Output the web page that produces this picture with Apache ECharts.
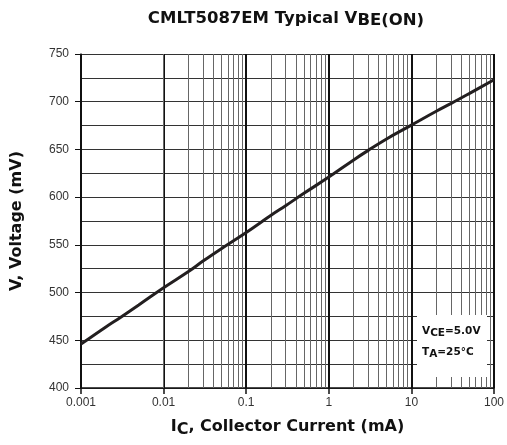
<!DOCTYPE html>
<html>
<head>
<meta charset="utf-8">
<script src="https://cdn.jsdelivr.net/npm/echarts@6/dist/echarts.min.js"></script>
<style>html,body{margin:0;padding:0;background:#fff}#c{width:507px;height:445px}</style>
</head>
<body>
<div id="c"></div>
<script>
const currentMA = [0.001,0.002,0.003,0.005,0.01,0.02,0.03,0.05,0.1,0.2,0.3,0.5,1,2,3,5,10,20,30,50,100];
const vbeMV = [446,464,474,487,505,522,533,546,563,581,591,604,621,639,649,661,675.5,690,698,708.5,723];
const xTickLabels = ['0.001','0.01','0.1','1','10','100'];
const decades = [0.001,0.01,0.1,1,10];
const minorMultipliers = [2,3,4,5,6,7,8,9];
const yMin = 400, yMax = 750, yStep = 50;

const minorLines = [];
decades.forEach(d => minorMultipliers.forEach(m => minorLines.push({xAxis: +(d*m).toPrecision(6)})));

const bold = 'DejaVu Sans';
const chart = echarts.init(document.getElementById('c'));
chart.setOption({
  animation: false,
  backgroundColor: '#fff',
  grid: {left: 81, right: 11, top: 54, bottom: 57},
  xAxis: {
    type: 'log', logBase: 10, min: 0.001, max: 100,
    name: '{a|I}{s|C}{a|, Collector Current (mA)}',
    nameLocation: 'middle', nameGap: 31,
    nameTextStyle: {
      rich: {
        a: {fontFamily: bold, fontWeight: 'bold', fontSize: 16, color: '#111', lineHeight: 16, verticalAlign: 'top'},
        s: {fontFamily: bold, fontWeight: 'bold', fontSize: 16, color: '#111', lineHeight: 16, padding: [5,0,0,0]}
      }
    },
    axisLine: {lineStyle: {color: '#111', width: 1.5}},
    axisTick: {show: true, length: 6, lineStyle: {color: '#111', width: 1.5}},
    axisLabel: {fontFamily: 'Liberation Sans', fontSize: 12, color: '#333', margin: 9,
      formatter: v => xTickLabels[Math.round(Math.log10(v)) + 3]},
    splitLine: {show: true, lineStyle: {color: '#111', width: 2}},
    minorTick: {show: false},
    minorSplitLine: {show: false}
  },
  yAxis: {
    type: 'value', min: yMin, max: yMax, interval: yStep,
    name: 'V, Voltage (mV)', nameLocation: 'middle', nameGap: 56, nameRotate: 90,
    nameTextStyle: {fontFamily: bold, fontWeight: 'bold', fontSize: 16, color: '#111'},
    axisLine: {show: true, lineStyle: {color: '#111', width: 1.5}},
    axisTick: {show: true, length: 6, lineStyle: {color: '#111', width: 1}},
    axisLabel: {fontFamily: 'Liberation Sans', fontSize: 12, color: '#333', margin: 12},
    splitLine: {show: true, lineStyle: {color: '#333', width: 1}},
    minorTick: {show: false, splitNumber: 2},
    minorSplitLine: {show: true, lineStyle: {color: '#333', width: 1}}
  },
  series: [
    {
      type: 'line', data: [], z: 1, silent: true,
      markLine: {
        silent: true, symbol: ['none','none'], animation: false,
        label: {show: false},
        lineStyle: {color: '#666', width: 1, type: 'solid'},
        emphasis: {disabled: true},
        data: minorLines
      }
    },
    {
      type: 'line', z: 5,
      data: currentMA.map((x, i) => [x, vbeMV[i]]),
      smooth: 0.4, showSymbol: false,
      lineStyle: {color: '#231f20', width: 3}
    }
  ],
  graphic: [
    {
      type: 'text', x: 286, y: 10, z: 100,
      style: {
        text: '{a|CMLT5087EM Typical V}{s|BE(ON)}',
        align: 'center', verticalAlign: 'top',
        rich: {
          a: {fontFamily: bold, fontWeight: 'bold', fontSize: 16.5, fill: '#111', lineHeight: 17, verticalAlign: 'top'},
          s: {fontFamily: bold, fontWeight: 'bold', fontSize: 16.5, fill: '#111', lineHeight: 17, padding: [5,0,0,0]}
        }
      }
    },
    {
      type: 'rect', z: 100,
      shape: {x: 417, y: 315, width: 70, height: 62},
      style: {fill: '#fff'}
    },
    {
      type: 'text', x: 422, y: 326, z: 101,
      style: {
        text: '{a|V}{s|CE}{a|=5.0V}',
        align: 'left', verticalAlign: 'top',
        rich: {
          a: {fontFamily: bold, fontWeight: 'bold', fontSize: 10.5, fill: '#111', lineHeight: 11, verticalAlign: 'top'},
          s: {fontFamily: bold, fontWeight: 'bold', fontSize: 10.5, fill: '#111', lineHeight: 11, padding: [4,0,0,0]}
        }
      }
    },
    {
      type: 'text', x: 422, y: 347, z: 101,
      style: {
        text: '{a|T}{s|A}{a|=25°C}',
        align: 'left', verticalAlign: 'top',
        rich: {
          a: {fontFamily: bold, fontWeight: 'bold', fontSize: 10.5, fill: '#111', lineHeight: 11, verticalAlign: 'top'},
          s: {fontFamily: bold, fontWeight: 'bold', fontSize: 10.5, fill: '#111', lineHeight: 11, padding: [4,0,0,0]}
        }
      }
    }
  ]
});
</script>
</body>
</html>
